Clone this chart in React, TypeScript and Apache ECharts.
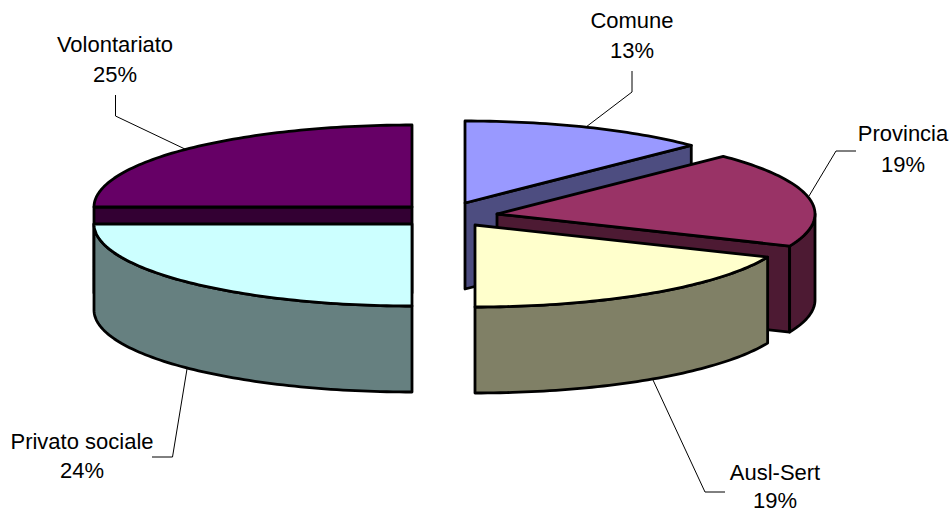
import React, { useEffect, useRef } from "react";
import * as echarts from "echarts";

// Clockwise from 12 o'clock, as in the picture.
const categories = ["Comune", "Provincia", "Ausl-Sert", "Privato sociale", "Volontariato"];
// Printed labels.
const percentLabels = ["13%", "19%", "19%", "24%", "25%"];
// Slice shares.
const sliceValues = [12.6, 18.8, 18.6, 25, 25];

const topColors = ["#9999FF", "#993366", "#FFFFCC", "#CCFFFF", "#660066"];
const wallColors = ["#4D4D80", "#4D1A33", "#808066", "#668080", "#330033"];

// Exploded slice centres on the page (top face).
const sliceCentres = [
  [465, 203],
  [497, 214],
  [475, 225],
  [412, 224],
  [412, 207],
];
const labelCentres = [
  [632, 20, 50],
  [903, 133, 164],
  [775, 472, 500.5],
  [82, 441, 470],
  [115, 44, 74],
];
const leaders = [
  [[632, 71], [632, 92], [586, 127]],
  [[856, 151], [836, 151], [809, 196]],
  [[725, 492], [705, 492], [653, 380]],
  [[152, 457], [172.5, 457], [187, 369]],
  [[115.5, 95], [115.5, 116], [187, 150]],
];
const drawOrder = [0, 1, 2, 4, 3];

const RX = 318;
const RY = 82;
const DEPTH = 86;
const EDGE = 2.8;
const FONT = '22px "Liberation Sans", Arial, sans-serif';

const total = sliceValues.reduce((a, b) => a + b, 0);

function renderSlice(_params: any, api: any) {
  const idx = api.value(1) as number;
  const order = drawOrder.indexOf(idx);
  let before = 0;
  for (let i = 0; i < idx; i++) before += sliceValues[i];
  const t0 = (before / total) * Math.PI * 2;
  const t1 = ((before + (api.value(0) as number)) / total) * Math.PI * 2;
  const [cx, cy] = sliceCentres[idx];
  const pt = (t: number, dz = 0) => [cx + RX * Math.sin(t), cy - RY * Math.cos(t) + dz];
  const arc = (a: number, b: number, dz = 0) => {
    const n = Math.max(2, Math.ceil((b - a) / 0.02));
    const out: number[][] = [];
    for (let k = 0; k <= n; k++) out.push(pt(a + ((b - a) * k) / n, dz));
    return out;
  };
  const edge = {
    stroke: "#000",
    lineWidth: EDGE,
    lineJoin: "round",
  };
  const children: any[] = [];
  const poly = (points: number[][], fill: string) =>
    children.push({
      type: "polygon",
      z2: order * 10 + children.length,
      shape: { points },
      style: { fill, ...edge },
    });

  // Cut faces that look towards the viewer.
  const centre = [cx, cy];
  const centreLow = [cx, cy + DEPTH];
  if (Math.sin(t1) > 0.01) poly([centre, pt(t1), pt(t1, DEPTH), centreLow], wallColors[idx]);
  if (Math.sin(t0) < -0.01) poly([centre, pt(t0), pt(t0, DEPTH), centreLow], wallColors[idx]);
  // Rim (the front half of the ellipse).
  const a = Math.max(t0, Math.PI / 2);
  const b = Math.min(t1, (Math.PI * 3) / 2);
  if (b > a) poly([...arc(a, b), ...arc(a, b, DEPTH).reverse()], wallColors[idx]);
  // Top face.
  poly([centre, ...arc(t0, t1)], topColors[idx]);

  return { type: "group", children };
}

export default function App() {
  const ref = useRef<HTMLDivElement>(null);
  useEffect(() => {
    document.body.style.margin = "0";
    const chart = echarts.init(ref.current!, undefined, { renderer: "svg" });
    const labelElements: any[] = [];
    categories.forEach((name, i) => {
      const [x, y1, y2] = labelCentres[i];
      labelElements.push(
        {
          type: "polyline",
          silent: true,
          shape: { points: leaders[i] },
          style: { stroke: "#000", lineWidth: 1, fill: "none" },
        },
        {
          type: "text",
          x,
          y: y1,
          style: { text: name, font: FONT, fill: "#000", align: "center", verticalAlign: "middle" },
        },
        {
          type: "text",
          x,
          y: y2,
          style: { text: percentLabels[i], font: FONT, fill: "#000", align: "center", verticalAlign: "middle" },
        }
      );
    });
    chart.setOption({
      animation: false,
      backgroundColor: "#fff",
      graphic: { elements: labelElements },
      series: [
        {
          type: "custom",
          coordinateSystem: "none",
          silent: true,
          renderItem: renderSlice,
          data: drawOrder.map((i) => ({ name: categories[i], value: [sliceValues[i], i] })),
        },
      ],
    });
    return () => chart.dispose();
  }, []);
  return <div ref={ref} style={{ position: "absolute", left: 0, top: 0, width: 950, height: 513 }} />;
}
